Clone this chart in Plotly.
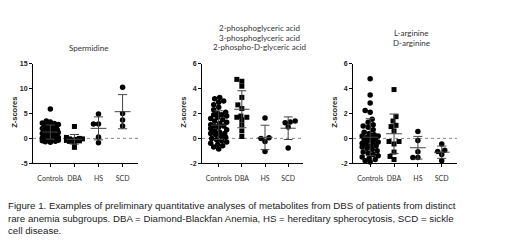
import numpy as np
import plotly.graph_objects as go

# ---------------- data ----------------
groups = ["Controls", "DBA", "HS", "SCD"]
titles = [["Spermidine"],
          ["2-phosphoglyceric acid", "3-phosphoglyceric acid", "2-phospho-D-glyceric acid"],
          ["L-arginine", "D-arginine"]]

spermidine = {
    "Controls": [5.9, 3.5, 3.3, 3.1, 3.0, 2.8, 2.7, 2.5, 2.4, 2.3, 2.2, 2.0, 1.9, 1.8, 1.7, 1.6,
                 1.5, 1.4, 1.3, 1.2, 1.1, 1.0, 0.9, 0.8, 0.7, 0.6, 0.5, 0.4, 0.3, 0.2, 0.1, 0.0,
                 -0.1, -0.2, -0.3, -0.4, -0.5, -0.6, -0.7, -0.8],
    "DBA": [2.4, 0.2, 0.0, -0.1, -0.1, -0.2, -0.3, -0.4, -0.5, -0.6, -0.8, -1.8],
    "HS": [4.9, 2.9, 2.9, 0.3, -0.9],
    "SCD": [10.3, 5.0, 3.7, 2.5],
}
phosphoglycerate = {
    "Controls": [3.3, 3.2, 3.0, 2.9, 2.7, 2.5, 2.3, 2.1, 2.0, 1.9, 1.9, 1.8, 1.7, 1.6, 1.5, 1.4,
                 1.3, 1.2, 1.1, 1.0, 1.0, 0.9, 0.8, 0.7, 0.6, 0.5, 0.4, 0.4, 0.3, 0.2, 0.1, 0.0,
                 -0.1, -0.2, -0.3, -0.4, -0.5, -0.6, -0.7, -0.85],
    "DBA": [4.75, 4.6, 4.2, 3.3, 2.7, 2.4, 1.8, 1.7, 1.7, 1.5, 1.1, 0.6, 0.15],
    "HS": [1.65, 0.05, 0.0, -0.26, -1.05],
    "SCD": [1.39, 1.31, 1.25, 0.92, -0.78],
}
arginine = {
    "Controls": [4.8, 3.5, 2.85, 2.25, 2.1, 1.55, 1.3, 1.1, 1.0, 0.9, 0.7, 0.5, 0.4, 0.3, 0.2,
                 0.1, 0.05, 0.0, 0.2, -0.1, -0.2, -0.3, -0.4, -0.5, -0.6, -0.7, -0.8, -0.9, -1.0,
                 -1.1, -1.2, -1.3, -1.4, -1.5, -1.6, -1.7, -1.8, -1.9, -0.6, -0.3],
    "DBA": [3.93, 1.75, 1.4, 1.05, 0.95, 0.6, -0.25, -0.25, -0.45, -1.1, -1.45, -1.7],
    "HS": [0.55, -0.18, -1.07, -1.53, -1.53],
    "SCD": [-0.45, -0.95, -1.05, -1.3, -1.8],
}
panels = [spermidine, phosphoglycerate, arginine]
y_ranges = [[-5, 15], [-2, 6], [-2, 6]]
y_ticks = [[-5, 0, 5, 10, 15], [-2, 0, 2, 4, 6], [-2, 0, 2, 4, 6]]
caption = ("Figure 1. Examples of preliminary quantitative analyses of metabolites from DBS of patients from distinct<br>"
           "rare anemia subgroups. DBA = Diamond-Blackfan Anemia, HS = hereditary spherocytosis, SCD = sickle<br>"
           "cell disease.")

# ---------------- layout geometry (reference-window pixels) ----------------
OFF = 8                       # default page body margin
W, H = 520 - 2 * OFF, 245 - 2 * OFF
x_domains = [[33, 138], [202, 303], [353, 457]]
y_top, y_bot = 61.5, 164
x_range = [-0.72, 3.64]
markers = {"Controls": "circle", "DBA": "square", "HS": "circle", "SCD": "circle"}


def px(x):
    return (x - OFF) / W


def py(y):
    return 1 - (y - OFF) / H


def swarm(vals, px_per_unit, d, maxoff):
    vals = np.asarray(vals, float)
    order = np.argsort(vals)
    placed = []
    offs = np.zeros(len(vals))
    cands = sorted(np.arange(-maxoff, maxoff + 0.01, 1.0), key=lambda c: (abs(c), c))
    for i in order:
        y = vals[i] * px_per_unit
        best, bestd = 0.0, -1
        for c in cands:
            md = min([np.hypot(c - a, y - b) for a, b in placed] + [1e9])
            if md >= d:
                best = c
                break
            if md > bestd:
                best, bestd = c, md
        placed.append((best, y))
        offs[i] = best
    return offs


fig = go.Figure()
layout = dict(width=W, height=H, margin=dict(l=0, r=0, t=0, b=0),
              paper_bgcolor="white", plot_bgcolor="white", showlegend=False)
annotations = []
shapes = []
ydom = [py(y_bot), py(y_top)]

for p, data in enumerate(panels):
    sfx = "" if p == 0 else str(p + 1)
    xa, ya = "x" + sfx, "y" + sfx
    x0, x1 = x_domains[p]
    px_per_cat = (x1 - x0) / (x_range[1] - x_range[0])
    px_per_unit = (y_bot - y_top) / (y_ranges[p][1] - y_ranges[p][0])
    for gi, g in enumerate(groups):
        vals = data[g]
        offs = swarm(vals, px_per_unit, 5.0, 8.0) / px_per_cat
        fig.add_trace(go.Scatter(
            x=gi + offs, y=vals, mode="markers", xaxis=xa, yaxis=ya,
            marker=dict(symbol=markers[g], size=5.5 if markers[g] == "circle" else 5,
                        color="black", line=dict(width=0)),
            hoverinfo="y", cliponaxis=False))
    # mean +- SD
    ex, ey = [], []
    for gi, g in enumerate(groups):
        v = np.asarray(data[g], float)
        m, s = v.mean(), v.std(ddof=1)
        ex += [gi - 0.33, gi + 0.33, None, gi, gi, None,
               gi - 0.19, gi + 0.19, None, gi - 0.19, gi + 0.19, None]
        ey += [m, m, None, m - s, m + s, None, m + s, m + s, None, m - s, m - s, None]
    fig.add_trace(go.Scatter(x=ex, y=ey, mode="lines", xaxis=xa, yaxis=ya,
                             line=dict(color="#444444", width=1), hoverinfo="skip"))

    layout["xaxis" + sfx] = dict(
        domain=[px(x0), px(x1)], range=x_range, anchor=ya,
        tickvals=list(range(len(groups))), ticktext=groups,
        showline=True, linecolor="black", linewidth=1, ticks="outside", ticklen=3,
        tickwidth=1, tickcolor="black", showgrid=False, zeroline=False,
        ticklabelstandoff=5,
        tickfont=dict(family="Lato", size=7, color="#333333"))
    layout["yaxis" + sfx] = dict(
        domain=ydom, range=y_ranges[p], anchor=xa,
        tickvals=y_ticks[p], ticktext=[str(t) for t in y_ticks[p]],
        showline=True, linecolor="black", linewidth=1, ticks="outside", ticklen=3,
        tickwidth=1, tickcolor="black", showgrid=False, zeroline=False,
        tickfont=dict(family="Liberation Sans", size=7, color="#222222", weight="bold"))
    shapes.append(dict(type="line", xref=xa + " domain", yref=ya, x0=0, x1=1, y0=0, y1=0,
                       line=dict(color="#888888", width=1, dash="dot"), layer="below"))
    annotations.append(dict(text="<b>Z-scores</b>", xref="paper", yref="paper",
                            x=px(x0 - 18), y=py(112), xanchor="center", yanchor="middle",
                            showarrow=False, textangle=-90,
                            font=dict(family="Liberation Sans", size=7.5, color="#222222")))

# titles
title_pos = [(88, [45]), (259, [25, 34.5, 44]), (411, [30, 39.5])]
for p, (cx, ys) in enumerate(title_pos):
    for line, yy in zip(titles[p], ys):
        annotations.append(dict(text=line, xref="paper", yref="paper", x=px(cx), y=py(yy),
                                showarrow=False, xanchor="center", yanchor="middle",
                                font=dict(family="Lato", size=8, color="#333333")))

annotations.append(dict(text=caption, xref="paper", yref="paper", x=px(6), y=py(200),
                        xanchor="left", yanchor="top", align="left", showarrow=False,
                        font=dict(family="Liberation Sans", size=9.7, color="#222222")))

layout["annotations"] = annotations
layout["shapes"] = shapes
fig.update_layout(**layout)
fig.write_html("out.html")
